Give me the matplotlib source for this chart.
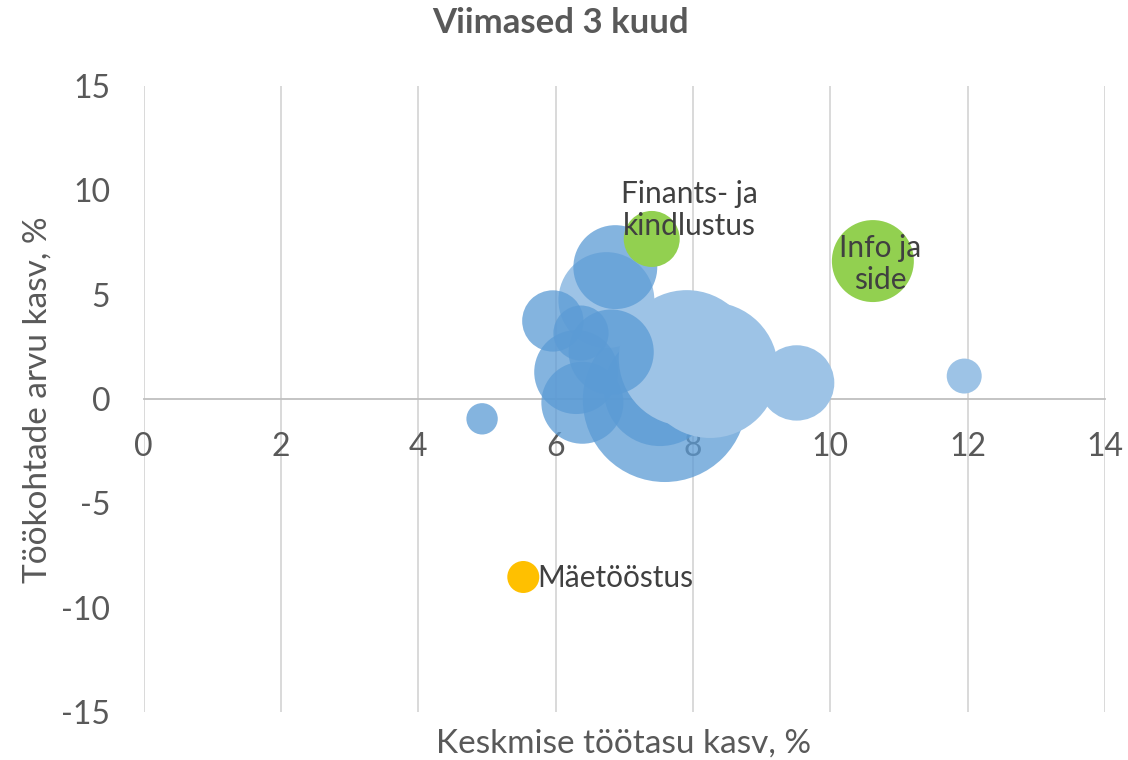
import matplotlib
matplotlib.use("Agg")
import matplotlib.pyplot as plt
from matplotlib.colors import to_rgba

# ---- data ----
title = "Viimased 3 kuud"
x_label = "Keskmise töötasu kasv, %"
y_label = "Töökohtade arvu kasv, %"

x_ticks = [0, 2, 4, 6, 8, 10, 12, 14]
y_ticks = [-15, -10, -5, 0, 5, 10, 15]

# other sectors (blue bubbles), in drawing order
blue_x = [7.59, 7.52, 7.91, 8.25, 9.51, 11.95, 6.74, 6.87, 6.30, 6.39, 6.81, 5.96, 6.37, 4.93]
blue_y = [-0.05, 0.43, 1.96, 1.39, 0.77, 1.10, 4.74, 6.32, 1.29, -0.18, 2.25, 3.74, 3.16, -0.95]
blue_size = [67.2, 31.4, 46.2, 46.2, 14.2, 3.06, 23.0, 17.6, 17.6, 16.8, 18.1, 9.4, 7.6, 2.46]
blue_shade = ["dark", "dark", "light", "light", "light", "light", "light",
              "dark", "dark", "dark", "dark", "dark", "dark", "dark"]

# highlighted sectors
hl_names = ["Finants- ja\nkindlustus", "Info ja\nside", "Mäetööstus"]
hl_x = [7.40, 10.62, 5.53]
hl_y = [7.67, 6.61, -8.53]
hl_size = [7.84, 16.8, 2.56]
hl_colors = ["#92D050", "#92D050", "#FFC000"]

# ---- figure ----
plt.rcParams["font.family"] = ["Lato", "DejaVu Sans"]
W, H = 1128, 760
fig = plt.figure(figsize=(W / 100, H / 100), dpi=100)
ax = fig.add_axes([143.5 / W, 1 - 712 / H, (1105 - 143.5) / W, (712 - 86) / H])

ax.set_xlim(0, 14)
ax.set_ylim(-15, 15)

SCALE = 207.36  # size units -> points^2
shade_color = {"dark": to_rgba("#5B9BD5", 0.75), "light": to_rgba("#9DC3E6", 1.0)}
ax.scatter(blue_x, blue_y, s=[v * SCALE for v in blue_size],
           c=[shade_color[s] for s in blue_shade], linewidths=0, zorder=3)
ax.scatter(hl_x, hl_y, s=[v * SCALE for v in hl_size], c=hl_colors,
           linewidths=0, zorder=4)

# labels for highlighted bubbles
lab_col = "#404040"
ax.text(7.95, 9.06, hl_names[0], ha="center", va="center", fontsize=21.5,
        color=lab_col, zorder=5, linespacing=1.2)
ax.text(10.73, 6.47, hl_names[1], ha="center", va="center", fontsize=21.5,
        color=lab_col, zorder=5, linespacing=1.2)
ax.text(5.73, -8.58, hl_names[2], ha="left", va="center", fontsize=21.5,
        color=lab_col, zorder=5)

# axes styling
for side in ["top", "right", "left"]:
    ax.spines[side].set_visible(False)
ax.spines["bottom"].set_position(("data", 0))
ax.spines["bottom"].set_color("#BFBFBF")
ax.spines["bottom"].set_linewidth(1.3)
ax.spines["bottom"].set_zorder(1)

ax.set_xticks(x_ticks)
ax.set_yticks(y_ticks)
ax.set_xticklabels([str(t) for t in x_ticks])
ax.set_yticklabels([str(t) for t in y_ticks])
ax.tick_params(axis="x", length=0, pad=24, labelsize=23, labelcolor="#595959")
ax.tick_params(axis="y", length=0, pad=24, labelsize=23, labelcolor="#595959")
ax.grid(axis="x", color="#D9D9D9", linewidth=1.4, zorder=0)
ax.set_axisbelow(True)

fig.text(561 / W, 1 - 23 / H, title, ha="center", va="center", fontsize=25,
         fontweight="bold", color="#595959")
fig.text(624 / W, 1 - 744 / H, x_label, ha="center", va="center", fontsize=24,
         color="#595959")
fig.text(38 / W, 1 - 400 / H, y_label, ha="center", va="center", fontsize=24,
         color="#595959", rotation=90)

fig.savefig("out.png", dpi=100)
